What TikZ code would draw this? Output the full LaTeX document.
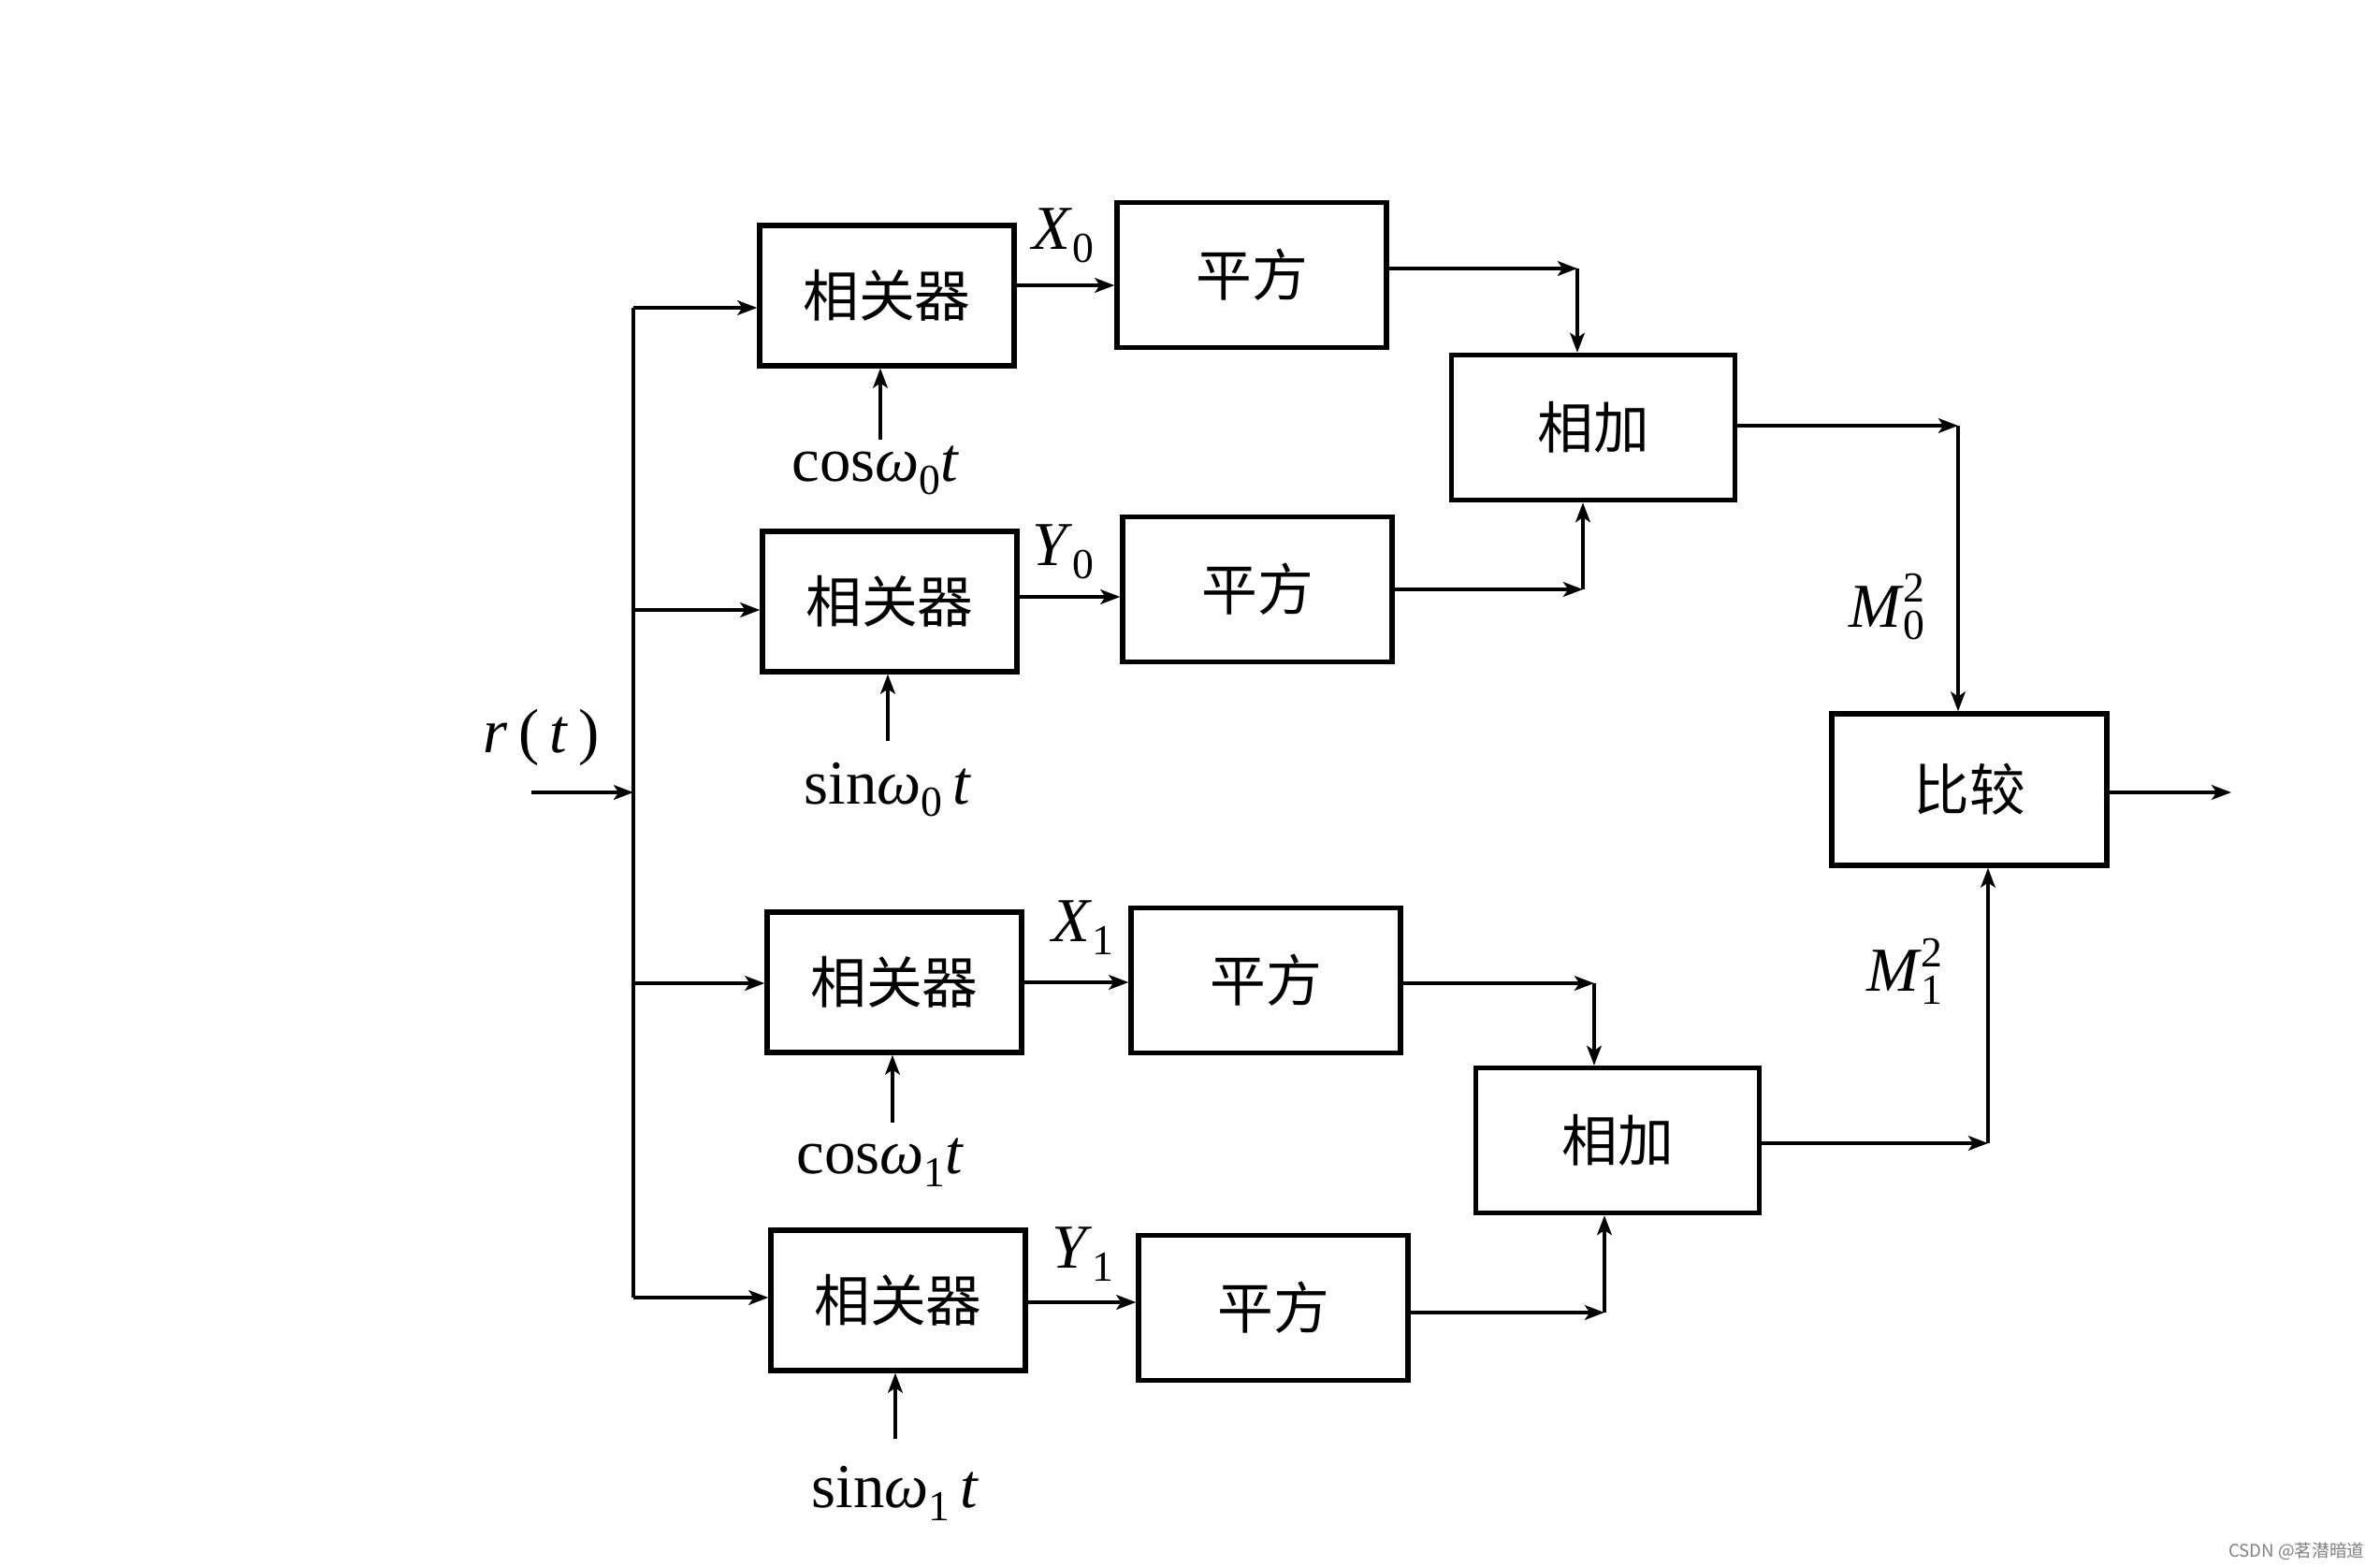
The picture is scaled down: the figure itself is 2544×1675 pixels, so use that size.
\documentclass[tikz,border=0pt]{standalone}
\usepackage{fontspec}
\setmainfont{Liberation Serif}
\newfontfamily\cjk{Noto Sans CJK SC}
\usetikzlibrary{arrows.meta}
\newcommand\lbdn[1]{\raisebox{-0.45ex}{\fontsize{13}{13}\selectfont #1}}
\newcommand\lbup[1]{\raisebox{0.85ex}{\fontsize{13}{13}\selectfont #1}}
\begin{document}
\begin{tikzpicture}[x=0.01cm,y=-0.01cm,
  blk/.style={draw, line width=1.5pt, inner sep=0pt, font=\cjk\fontsize{17}{20}\selectfont},
  cbox/.style={blk, minimum width=2.72cm, minimum height=1.50cm},
  sbox/.style={blk, minimum width=2.88cm, minimum height=1.55cm},
  abox/.style={blk, minimum width=3.03cm, minimum height=1.55cm},
  wire/.style={line width=0.9pt},
  arr/.style={wire, -{Stealth[length=6pt,width=4.5pt,inset=1.5pt]}},
  lbl/.style={font=\fontsize{19}{22}\selectfont, inner sep=0pt},
  wm/.style={font=\cjk\fontsize{5.3}{6}\selectfont, text=black!50, inner sep=0pt}]
\useasboundingbox (0,0) rectangle (2544,1675);
\fill[white] (0,0) rectangle (2544,1675);

% blocks
\node[cbox] (C1) at (948,316) {相关器};
\node[sbox] (S1) at (1338,294) {平方};
\node[abox] (A1) at (1703,457) {相加};
\node[cbox] (C2) at (951,643) {相关器};
\node[sbox] (S2) at (1344,630) {平方};
\node[blk, minimum width=2.94cm, minimum height=1.62cm] (B) at (2105,844) {比较};
\node[cbox] (C3) at (956,1050) {相关器};
\node[sbox] (S3) at (1353,1048) {平方};
\node[abox] (A2) at (1729,1219) {相加};
\node[cbox] (C4) at (960,1390) {相关器};
\node[sbox] (S4) at (1361,1398) {平方};

% input and bus
\coordinate (in) at (568,847);
\coordinate (bin) at (677,847);
\coordinate (b1) at (677,329);
\coordinate (b2) at (677,652);
\coordinate (b3) at (677,1051);
\coordinate (b4) at (677,1387);
\node[lbl] (rt) at (579,788) {\textit{r}\,(\,\textit{t}\,)};
\draw[arr] (in) -- (bin);
\draw[wire] (b1) -- (b4);
\draw[arr] (b1) -- (C1.west |- b1);
\draw[arr] (b2) -- (C2.west |- b2);
\draw[arr] (b3) -- (C3.west |- b3);
\draw[arr] (b4) -- (C4.west |- b4);

% correlator -> square
\draw[arr] (C1.east |- 0,305) -- (S1.west |- 0,305);
\draw[arr] (C2.east |- 0,638) -- (S2.west |- 0,638);
\draw[arr] (C3.east |- 0,1050) -- (S3.west |- 0,1050);
\draw[arr] (C4.east |- 0,1392) -- (S4.west |- 0,1392);
\node[lbl] (x0) at (1136,252) {\textit{X}\lbdn{0}};
\node[lbl] (y0) at (1136,590) {\textit{Y}\lbdn{0}};
\node[lbl] (x1) at (1157,992) {\textit{X}\lbdn{1}};
\node[lbl] (y1) at (1157,1341) {\textit{Y}\lbdn{1}};

% local oscillators
\node[lbl] (lo1) at (936,503) {cos\textit{ω}\lbdn{0}\textit{t}};
\node[lbl] (lo2) at (949,844) {sin\textit{ω}\lbdn{0}\,\textit{t}};
\node[lbl] (lo3) at (941,1243) {cos\textit{ω}\lbdn{1}\textit{t}};
\node[lbl] (lo4) at (957,1596) {sin\textit{ω}\lbdn{1}\,\textit{t}};
\coordinate (o1) at (941,470);
\coordinate (o2) at (949,792);
\coordinate (o3) at (954,1200);
\coordinate (o4) at (957,1538);
\draw[arr] (o1) -- (C1.south -| o1);
\draw[arr] (o2) -- (C2.south -| o2);
\draw[arr] (o3) -- (C3.south -| o3);
\draw[arr] (o4) -- (C4.south -| o4);

% squares -> adders
\coordinate (k1) at (1686,287);
\coordinate (k2) at (1692,630);
\coordinate (k3) at (1704,1051);
\coordinate (k4) at (1715,1403);
\draw[arr] (S1.east |- k1) -- (k1);
\draw[arr] (k1) -- (A1.north -| k1);
\draw[arr] (S2.east |- k2) -- (k2);
\draw[arr] (k2) -- (A1.south -| k2);
\draw[arr] (S3.east |- k3) -- (k3);
\draw[arr] (k3) -- (A2.north -| k3);
\draw[arr] (S4.east |- k4) -- (k4);
\draw[arr] (k4) -- (A2.south -| k4);

% adders -> compare
\coordinate (m0) at (2093,455);
\coordinate (m1) at (2125,1222);
\draw[arr] (A1.east |- m0) -- (m0);
\draw[arr] (m0) -- (B.north -| m0);
\draw[arr] (A2.east |- m1) -- (m1);
\draw[arr] (m1) -- (B.south -| m1);
\node[lbl] (M0) at (2017,649) {\textit{M}\rlap{\lbdn{0}}\lbup{2}};
\node[lbl] (M1) at (2036,1038) {\textit{M}\rlap{\lbdn{1}}\lbup{2}};

% output
\coordinate (out) at (2385,847);
\draw[arr] (B.east |- out) -- (out);

\node[wm, anchor=east] (wmk) at (2528,1658) {CSDN @茗潜暗道};
\end{tikzpicture}
\end{document}
